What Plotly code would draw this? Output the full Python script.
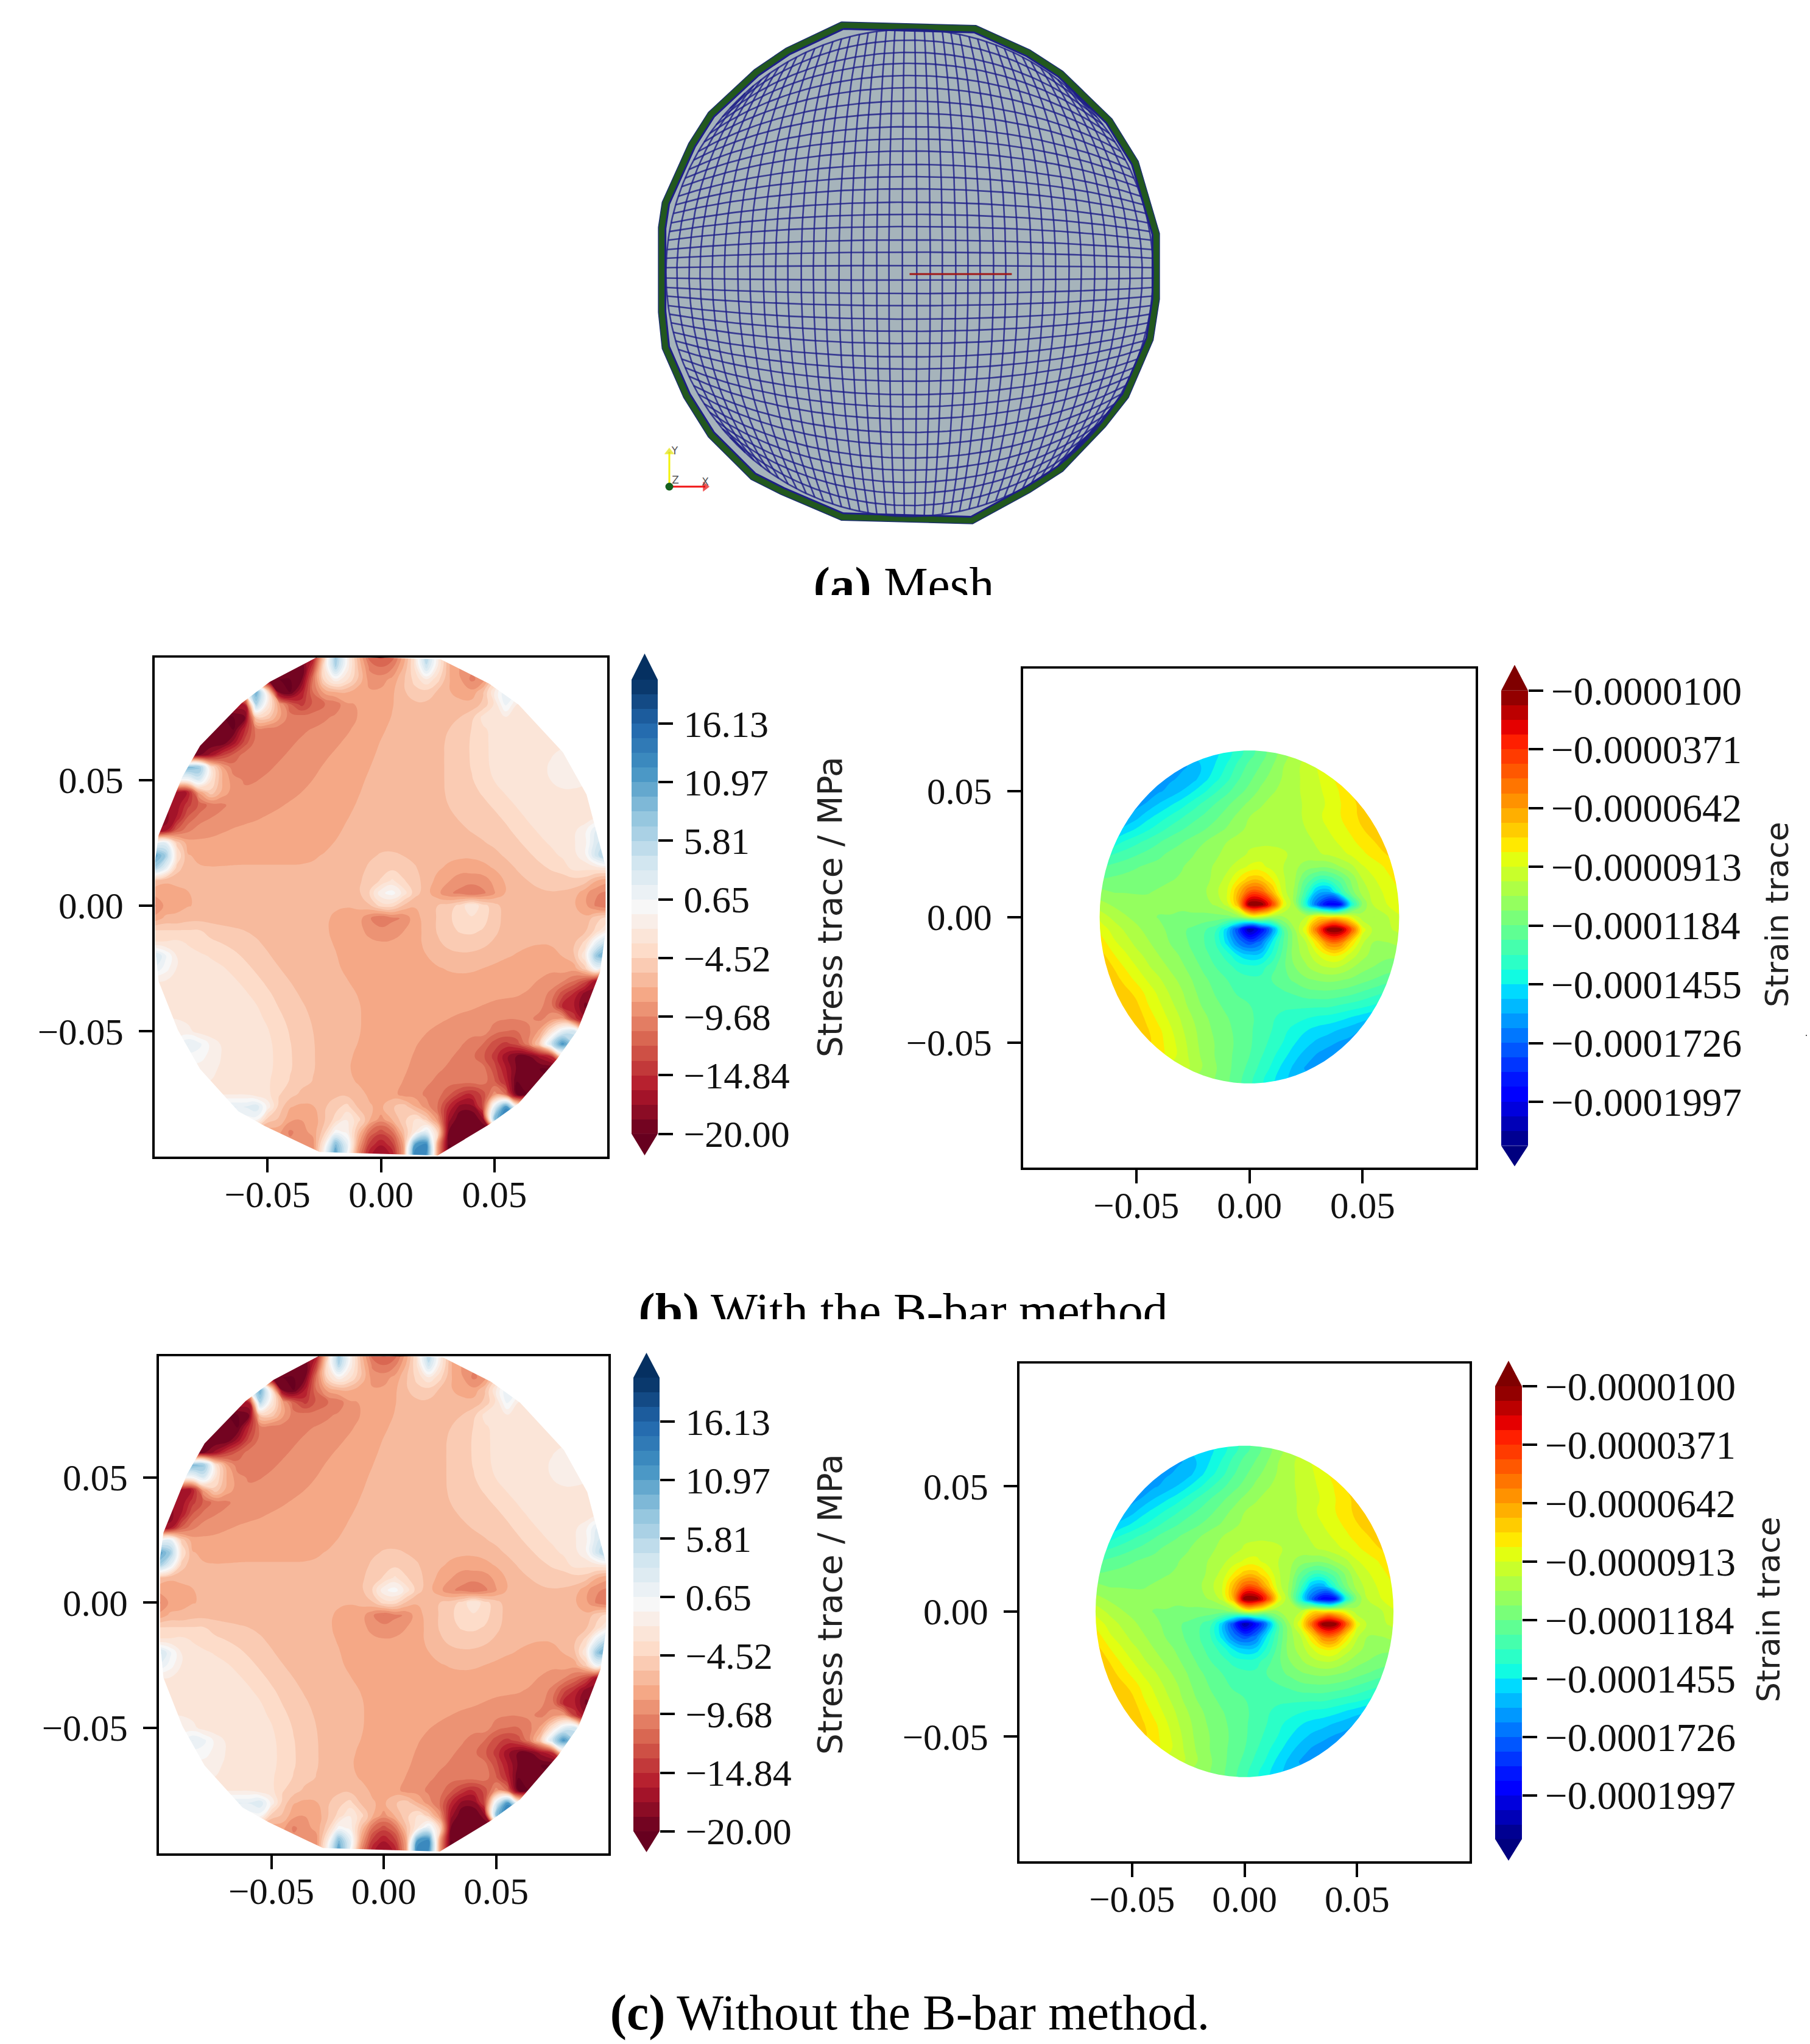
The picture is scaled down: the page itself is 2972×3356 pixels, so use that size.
import numpy as np
import plotly.graph_objects as go

W, H = 2972, 3356
SERIF = "Liberation Serif"

# Stress trace / MPa on a 0.005 grid (x,y from -0.1 to 0.1).
# Each row: (first column index, values); cells beyond the disc repeat the row's edge value.
STRESS_ROWS = [
 (14,[-17,-6,8,-1,-7,-12,-13,-12,-8,-3,7,-2,-7,-9,-9]),
 (13,[-20,-14,-3,6,-1,-6,-10,-11,-10,-7,-3,4,-2,-7,-10,-10,-9]),
 (11,[-20,-20,-19,-11,-4,-1,-3,-6,-9,-9,-8,-6,-4,-2,-4,-7,-9,-10,-9,-5,-2,-1]),
 (8,[-2,10,-3,-19,-20,-16,-11,-8,-7,-7,-8,-8,-8,-7,-6,-5,-5,-6,-7,-8,-8,-6,-2,2,0,-3]),
 (8,[-16,6,-2,-8,-12,-14,-12,-11,-10.5,-9.5,-9,-8.5,-8,-7.5,-7,-6.5,-6.5,-7,-7,-7,-6.5,-5.5,-3,1,-2,-3]),
 (7,[-20,-19,-5,-5,-8,-10.4,-10.4,-10.4,-9,-9,-9,-7.8,-7.8,-7.8]+[-6.5]*6+[-5.2,-5,-2.8,-2.8,-2,-2,-3]),
 (6,[-20,-20,-15]+[-10.4]*5+[-9]*4+[-7.8]*3+[-6.5]*5+[-5.2]*2+[-5]+[-2.8]*6),
 (5,[-20,-20,-17,-13]+[-10.4]*4+[-9]*4+[-7.8]*3+[-6.5]*6+[-5.2]*2+[-5]+[-2.8]*6+[-2.5]),
 (4,[-19,-17,-14,-12]+[-10.4]*4+[-9]*4+[-7.8]*4+[-6.5]*6+[-5.2]*2+[-5]+[-2.8]*5+[-2.6,-2,-1.5]),
 (3,[9,8,-3,-8]+[-10.4]*4+[-9]*4+[-7.8]*4+[-7]+[-6.5]*6+[-5.2]*2+[-5]+[-2.8]*5+[-2.5,-1.5,0,0]),
 (3,[0,3,-3,-7,-10,-10.4,-10]+[-9]*4+[-8.5]+[-7.8]*4+[-6.5]*7+[-5.2]*3+[-2.8]*5+[-2.5,-2,0.5,-1,-2]),
 (2,[-17,-16,-8,-5,-7.5,-10.4]+[-9]*5+[-8.5]+[-7.8]*4+[-7]+[-6.5]*7+[-5.2]*4+[-2.8]*8+[-3]),
 (1,[-18,-17,-14,-12,-10.4,-10]+[-9]*5+[-7.8]*6+[-7]+[-6.5]*7+[-5.2]*4+[-5]+[-2.8]*8),
 (1,[-18,-16,-12,-10.4]+[-9]*5+[-7.8]*7+[-7]+[-6.5]*9+[-5.2]*5+[-2.8]*7+[-2]),
 (1,[-17,-12,-10,-9,-9,-8.8]+[-7.8]*10+[-6.5]*11+[-5.2]*4+[-4.4]+[-2.8]*4+[-2.5,-1,2,3]),
 (0,[0,2,-5]+[-7.8]*13+[-7]+[-6.5]*12+[-6]+[-5.2]*3+[-4.4]+[-2.8]*3+[-2.5,-1,3,5]),
 (0,[11,7,-3,-7,-7.4,-7.8]+[-7.4]*9+[-6.5]*4+[-6]+[-5.2]*2+[-6]+[-6.5]*7+[-6]+[-5.2]*3+[-4.4,-2.8,-2.8,-2,-1,4,7]),
 (0,[7,2,-5]+[-6.8]*16+[-5.2]*5+[-6,-6.5,-7,-7.5,-8,-7.5,-7,-6.2]+[-5.2]*3+[-4.4,-4,-2.8,-2.8,-2.5,-2]),
 (0,[-6]+[-6.8]*17+[-6,-5.2,-4.4,-3,-4.4,-5.2,-6.8,-8,-8.5,-9.2,-9.2,-9,-8,-7,-6.2,-5.8]+[-5.2]*3+[-5,-5.2,-7,-8]),
 (0,[-8,-8,-8]+[-6.8]*16+[-4.4,-1,0,-2.5,-5.2,-7,-8,-9.5,-10,-11,-10,-8.5,-7,-7,-6.2,-5.8,-5.8,-5.8,-6.4,-8,-9.5,-10]),
 (0,[-10,-9,-8,-8]+[-6.8]*15+[-6,-4,-4,-6,-7,-7,-5.8,-5.2,-4,-2,-4,-5.2,-6.8]+[-6.8]*6+[-8,-10,-11]),
 (0,[-8]+[-6.8]*15+[-7.8]*3+[-9.5,-11,-10,-9.5,-8,-7,-5.2,-4.4,-3.5,-1.5,-3.5,-5,-6.8]+[-6.8]*7+[-5,-4]),
 (0,[-4.4]*5+[-5.2]*4+[-6]+[-6.8]*6+[-7.4,-7.8,-7.8,-9,-9.5,-9,-7.8,-7.8,-6.8,-5.2,-4.4,-4.2,-4.2,-4.4,-5.2,-6.8]+[-6.8]*6+[-6,-4,-1]),
 (0,[-3,-3,-2.8,-2.8,-2.8,-4.4,-5]+[-5.2]*3+[-6]+[-6.8]*6+[-7.8]*7+[-7,-5.2,-5.2,-5.2,-5.2,-5.2,-6]+[-6.8]*6+[-6,-4,2,6]),
 (0,[4,1,-2,-3,-2.8,-2.8,-2.8,-4.4]+[-5.2]*3+[-6.8]*6+[-7.4]+[-7.8]*6+[-6.8,-6.8,-6.2,-6,-6,-6.2]+[-6.8]*3+[-7.4,-7.8,-7.8,-7,-6,-2,8,11]),
 (0,[2,0,-2,-3]+[-2.8]*4+[-4.4]+[-5.2]*3+[-6.8]*5+[-7.4]+[-7.8]*7+[-7.4,-6.8,-6.8,-6.8,-7.4]+[-7.8]*8+[-5,1,-6]),
 (0,[-2,-2,-2.5,-2.8]+[-2.8]*5+[-4.4]+[-5.2]*3+[-6.8]*5+[-7.4]+[-7.8]*15+[-8.4,-9,-9.5,-11,-13,-17,-18]),
 (1,[-2,-2.5,-2.8]+[-2.8]*6+[-5,-5.2,-5.2,-6]+[-6.8]*5+[-7.4]+[-7.8]*13+[-8.4,-9,-10,-13,-15,-18,-18]),
 (1,[-2,-2.5,-2.8]+[-2.8]*7+[-5.2]*3+[-6]+[-6.8]*4+[-7.4]+[-7.8]*9+[-8.4]+[-9]*5+[-10.4,-15,-16,-19,-19]),
 (1,[-2,-2.5,-2.8]+[-2.8]*7+[-5,-5.2,-5.2,-6]+[-6.8]*4+[-7.4]+[-7.8]*6+[-8.4]+[-9]*7+[-10,-9,-8,-14,-17]),
 (2,[-1,-1.5,-2.5,-2.8]+[-2.8]*6+[-5.2]*3+[-6.8]*4+[-7.4]+[-7.8]*4+[-8.4]+[-9]*5+[-10.4,-11,-11,-10,-8,-3,2,4,-5]),
 (2,[-1,2,1,-1,-2,-2.8]+[-2.8]*4+[-5.2]*3+[-6.8]*4+[-7.4,-7.8,-7.8,-7.8,-8.4]+[-9]*4+[-10.4,-11,-13,-14,-13,-10,-5,4,12,6]),
 (4,[0,-1,-2,-2.8]+[-2.8]*4+[-5,-5.2,-5.2]+[-6.8]*3+[-7.4]+[-7.8]*4+[-8.6]+[-9]*3+[-10.4,-11,-12,-14,-17,-19,-19,-17,-15,-4]),
 (5,[-2,-2,-2.8]+[-2.8]*4+[-5,-5.2,-5.2]+[-6.8]*3+[-7.4]+[-7.8]*4+[-9]*3+[-10.4]*4+[-13,-16,-19,-20,-20,-20]),
 (6,[-2,-2.8]+[-2.8]*4+[-5,-5.2,-5.2]+[-6.8]*3+[-7.4]+[-7.8]*3+[-8.4,-9,-9,-10,-10.4,-10.4,-10.4,-10.4,-12,-15,-20,-20,-20]),
 (7,[-2,-2,-2.8,-2.8,-4.4,-5.2,-5.2,-6]+[-6.8]*4+[-7.8]*3+[-9,-9,-10,-10.4,-12,-14,-15,-13,-9,-11,-20,-20]),
 (8,[2,3,-1,-5,-7,-8,-8,-6,-5,-4,-6,-7,-7,-6,-5,-7,-9,-11,-15,-18,-18,-13,2,12,0]),
 (9,[0,-5,-6,-8,-9,-8,-6,-4,-2,-4,-7,-9,-7,-5,-3,-5,-9,-17,-20,-20,-18,8,14]),
 (11,[-8,-10,-10,-8,-5,0,-1,-6,-11,-13,-11,-6,-2,2,-4,-19,-20,-20,-20]),
 (14,[-9,-2,9,2,-8,-14,-16,-14,-8,11,13,-8,-20,-20]),
 (14,[-9,0,12,0,-10,-16,-18,-16,-8,14,12,-8,-20]),
]
STRESS_STEP = 0.005

# Strain trace in units of 1e-6 on a 0.005 grid
# (x from -0.07 to 0.07, y from 0.065 down to -0.065).
STRAIN_ROWS = [
 (10,[-150,-147,-142,-135,-128,-122,-115,-108,-102,-98]),
 (8,[-160,-158,-150,-145,-138,-130,-123,-118,-112,-105,-100,-96,-91,-86]),
 (6,[-160,-160,-158,-155,-148,-141,-134,-126,-120,-114,-109,-104,-100,-96,-92,-88,-82,-78]),
 (5,[-164,-160,-157,-152,-146,-140,-133,-127,-121,-116,-110,-106,-102,-100,-96,-93,-89,-84,-78,-75]),
 (4,[-162,-158,-152,-147,-142,-136,-130,-125,-120,-115,-110,-106,-102,-100,-100,-97,-94,-90,-85,-80,-75,-73]),
 (3,[-160,-155,-148,-143,-138,-133,-128,-124,-120,-115,-110,-105,-102,-100,-100,-100,-97,-93,-89,-85,-80,-76,-72,-70]),
 (2,[-155,-150,-145,-140,-135,-130,-126,-122,-119,-115,-111,-107,-103,-100,-100,-100,-100,-98,-95,-91,-87,-83,-78,-74,-70]),
 (1,[-146,-143,-138,-134,-130,-126,-122,-119,-116,-112,-108,-105,-102,-100,-100,-100,-100,-100,-100,-97,-94,-90,-86,-82,-78,-73,-70]),
 (1,[-135,-132,-129,-126,-123,-120,-117,-115,-112,-109,-106,-103,-101,-97,-95,-95,-97,-100,-101,-99,-97,-94,-90,-86,-82,-78,-75,-72]),
 (0,[-125,-125,-123,-121,-119,-117,-116,-114,-112,-110,-107,-104,-100,-95,-90,-89,-94,-98,-103,-108,-110,-110,-105,-100,-92,-88,-84,-80,-77]),
 (0,[-118,-118,-117,-116,-115,-114,-113,-112,-111,-110,-108,-102,-96,-84,-74,-74,-84,-97,-104,-120,-130,-130,-122,-110,-98,-92,-87,-83,-80]),
 (0,[-108,-110,-112,-112,-112,-112,-111,-110,-110,-108,-106,-100,-92,-70,-48,-48,-70,-95,-106,-130,-155,-158,-135,-115,-102,-95,-90,-86,-83]),
 (0,[-100,-103,-106,-108,-110,-110,-110,-110,-110,-109,-107,-104,-96,-70,-10,-10,-40,-86,-105,-140,-175,-198,-195,-140,-110,-97,-92,-88,-85]),
 (0,[-88,-95,-100,-104,-107,-110,-112,-112,-113,-113,-114,-114,-114,-110,-95,-95,-105,-105,-103,-98,-80,-80,-80,-90,-102,-105,-100,-93,-90]),
 (0,[-80,-88,-94,-99,-103,-107,-110,-113,-117,-120,-124,-130,-150,-180,-215,-195,-165,-125,-105,-86,-50,-10,-10,-45,-88,-100,-100,-97,-92]),
 (0,[-75,-82,-90,-95,-100,-104,-108,-112,-116,-120,-125,-132,-148,-168,-178,-170,-145,-125,-108,-98,-78,-55,-55,-78,-97,-105,-105,-103,-100]),
 (0,[-72,-76,-84,-90,-96,-100,-105,-108,-113,-118,-123,-128,-135,-146,-152,-150,-137,-122,-108,-102,-92,-84,-84,-94,-102,-108,-110,-110,-110]),
 (0,[-70,-72,-78,-85,-91,-97,-101,-106,-110,-115,-120,-125,-129,-134,-136,-135,-128,-120,-112,-106,-101,-98,-99,-104,-109,-112,-114,-116,-118]),
 (1,[-70,-74,-80,-86,-92,-97,-102,-107,-112,-117,-121,-125,-128,-130,-130,-125,-121,-117,-113,-111,-110,-111,-113,-116,-119,-122,-124,-126]),
 (1,[-68,-70,-75,-80,-87,-93,-99,-104,-110,-115,-119,-123,-126,-128,-129,-128,-126,-124,-121,-120,-120,-121,-123,-126,-129,-132,-135,-137]),
 (2,[-68,-72,-76,-84,-90,-96,-102,-108,-113,-117,-120,-123,-125,-128,-130,-130,-130,-130,-130,-130,-132,-134,-136,-139,-142,-145]),
 (3,[-70,-73,-80,-87,-93,-99,-105,-110,-115,-118,-121,-124,-127,-131,-134,-136,-138,-140,-141,-143,-146,-149,-152,-155]),
 (4,[-72,-77,-83,-90,-97,-103,-109,-113,-117,-120,-124,-128,-132,-137,-141,-145,-148,-150,-153,-156,-160,-162]),
 (5,[-76,-82,-88,-95,-102,-108,-112,-116,-120,-124,-129,-134,-139,-145,-150,-154,-157,-160,-162,-165]),
 (6,[-82,-88,-94,-101,-107,-112,-116,-121,-125,-131,-137,-143,-150,-155,-160,-163,-166]),
 (8,[-94,-100,-106,-111,-116,-122,-127,-134,-140,-148,-154,-160,-165]),
 (10,[-107,-112,-117,-123,-130,-137,-144,-150,-156]),
]

# Outline of the disc (x, y); edges between the electrodes are straight.
BOUNDARY_X = [-.027,-.049,-.0615,-.0797,-.0875,-.098,-.0995,-.0995,-.098,-.0895,-.0797,-.0628,-.0511,-.027,.025,.0477,.0607,.0776,.0867,.0965,.099,.099,.0906,.0802,.0607,.0477,.0263]
BOUNDARY_Y = [.0994,.089,.0805,.0636,.0513,.028,.018,-.0156,-.03,-.0494,-.065,-.0818,-.0877,-.098,-.0994,-.087,-.0786,-.061,-.0494,-.0266,-.0104,.0156,.0442,.061,.0799,.0883,.098]
STRAIN_RADIUS = 0.0662

STRESS_TICKS = [-20.00,-14.84,-9.68,-4.52,0.65,5.81,10.97,16.13]
STRESS_LABELS = ["−20.00","−14.84","−9.68","−4.52","0.65","5.81","10.97","16.13"]
STRAIN_TICKS = [-10,-37.1,-64.2,-91.3,-118.4,-145.5,-172.6,-199.7]
STRAIN_LABELS = ["−0.0000100","−0.0000371","−0.0000642","−0.0000913","−0.0001184","−0.0001455","−0.0001726","−0.0001997"]
AXIS_TICKS = [-0.05,0.0,0.05]
AXIS_LABELS = ["−0.05","0.00","0.05"]

# The quad mesh has far too many cells to read one by one: this is a schematic of it, a curved
# grid with the same cell size, using these line positions across the disc.
MESH_LINES = [-1,-.955,-.905,-.86,-.81,-.76,-.705,-.655,-.6,-.55,-.5,-.445,-.395,-.345,-.29,-.24,-.19,-.135,-.085,-.03,
              .03,.085,.135,.19,.24,.29,.345,.395,.445,.5,.55,.6,.655,.705,.76,.81,.86,.905,.955,1]
CRACK_X = [0.0,0.405]
CRACK_Y = [-0.005,-0.005]

RDBU = [[0,"#67001f"],[.1,"#b2182b"],[.2,"#d6604d"],[.3,"#f4a582"],[.4,"#fddbc7"],[.5,"#f7f7f7"],
        [.6,"#d1e5f0"],[.7,"#92c5de"],[.8,"#4393c3"],[.9,"#2166ac"],[1,"#053061"]]
JET = [[0,"#00007f"],[.11,"#0000ff"],[.125,"#0000ff"],[.34,"#00dbff"],[.35,"#00e5f7"],[.375,"#14ffde"],
       [.64,"#ebff08"],[.65,"#f5f500"],[.66,"#ffea00"],[.89,"#ff1c00"],[.91,"#f10000"],[1,"#7f0000"]]


def expand(rows, ncol):
    out = []
    for start, vals in rows:
        r = [vals[0]] * start + list(vals)
        r = r[:ncol] + [vals[-1]] * (ncol - len(r))
        out.append(r)
    return np.array(out, dtype=float)


def soften_plateaus(z, spread=3.5, passes=2):
    """The readings are whole bands, so they form steps; relax the steps in the flat background
    only, leaving the sharp spots at the electrodes exactly as read."""
    kernel = np.array([[1, 2, 1], [2, 4, 2], [1, 2, 1]]) / 16.0
    for _ in range(passes):
        new = z.copy()
        for i in range(1, z.shape[0] - 1):
            for j in range(1, z.shape[1] - 1):
                win = z[i - 1:i + 2, j - 1:j + 2]
                if win.max() - win.min() <= spread:
                    new[i, j] = (win * kernel).sum()
        z = new
    return z


stress = soften_plateaus(expand(STRESS_ROWS, 41))
stress_xy = -0.1 + STRESS_STEP * np.arange(41)
strain_core = expand(STRAIN_ROWS, 29)
strain = np.vstack([strain_core[0], strain_core, strain_core[-1]])
strain_x = -0.07 + 0.005 * np.arange(29)
strain_y = 0.07 - 0.005 * np.arange(29)

fig = go.Figure()
layout = dict(width=W, height=H, margin=dict(l=0, r=0, t=0, b=0), paper_bgcolor="white",
              plot_bgcolor="rgba(0,0,0,0)", showlegend=False, shapes=[], annotations=[],
              font=dict(family=SERIF, color="#111"))
axis_n = [0]


def axes(l, r, t, b, xa, ya):
    axis_n[0] += 1
    n = axis_n[0]
    sx = "" if n == 1 else str(n)
    layout["xaxis" + sx] = dict(domain=[l / W, r / W], anchor="y" + sx, **xa)
    layout["yaxis" + sx] = dict(domain=[1 - b / H, 1 - t / H], anchor="x" + sx, **ya)
    return "x" + sx, "y" + sx


HIDE = dict(visible=False, showgrid=False, zeroline=False)


def framed(rng, standoff):
    return dict(range=rng, showgrid=False, zeroline=False, showline=True, mirror=True, linecolor="black",
                linewidth=4, ticks="outside", ticklen=22, tickwidth=4, tickcolor="black", ticklabelstandoff=standoff,
                tickvals=AXIS_TICKS, ticktext=AXIS_LABELS, tickfont=dict(family=SERIF, size=61, color="#111"))


def circle_path(poly):
    xs, ys = poly
    return "M " + " L ".join(f"{a:.5f},{b:.5f}" for a, b in zip(xs, ys)) + " Z"


def mask_shape(xn, yn, xr, yr, poly):
    outer = ([xr[0], xr[1], xr[1], xr[0]], [yr[0], yr[0], yr[1], yr[1]])  # counter-clockwise
    path = circle_path(outer) + " " + circle_path(poly)
    layout["shapes"].append(dict(type="path", xref=xn, yref=yn, path=path, fillcolor="white",
                                 line=dict(width=0), layer="above"))


def colourbar(l, r, t, b, vals, labels, lo, hi, top_tip, bot_tip, scale, title, tx, ty, tick_size, standoff, title_size):
    levels = np.linspace(lo, hi, 32)
    mids = (levels[:-1] + levels[1:]) / 2
    xn, yn = axes(l, r, t, b, dict(range=[-.5, .5], **HIDE),
                  dict(range=[bot_tip, top_tip], side="right", showgrid=False, zeroline=False, showline=False,
                       ticks="outside", ticklen=24, tickwidth=4, tickcolor="black", tickvals=vals, ticktext=labels,
                       ticklabelstandoff=standoff, tickfont=dict(family=SERIF, size=tick_size, color="#111")))
    fig.add_trace(go.Heatmap(x=[0], y=mids, z=mids.reshape(-1, 1), zmin=lo, zmax=hi, colorscale=scale,
                             showscale=False, hoverinfo="skip", xaxis=xn, yaxis=yn))
    for base, tip, colour in ((hi, top_tip, scale[-1][1]), (lo, bot_tip, scale[0][1])):
        fig.add_trace(go.Scatter(x=[-.5, 0, .5, -.5], y=[base, tip, base, base], mode="lines", fill="toself",
                                 fillcolor=colour, line=dict(width=0), hoverinfo="skip", xaxis=xn, yaxis=yn))
    layout["annotations"].append(dict(text=title, xref="paper", yref="paper", x=tx / W, y=1 - ty / H,
                                      xanchor="center", yanchor="middle", showarrow=False, textangle=-90,
                                      font=dict(family="DejaVu Sans", size=title_size, color="#222")))


def stress_panel(box, xr, yr, cb, cbt):
    xn, yn = axes(*box, framed(xr, -16), framed(yr, 13))
    fig.add_trace(go.Contour(x=stress_xy, y=stress_xy[::-1], z=stress, zmin=-20, zmax=20, colorscale=RDBU,
                             contours=dict(start=-20, end=20, size=40 / 31, coloring="fill", showlines=False),
                             line=dict(width=0, smoothing=1.3), showscale=False, hoverinfo="skip", xaxis=xn, yaxis=yn))
    mask_shape(xn, yn, xr, yr, (BOUNDARY_X, BOUNDARY_Y))
    colourbar(*cb, STRESS_TICKS, STRESS_LABELS, -20, 20, cbt[0], cbt[1], RDBU, "Stress trace / MPa", cbt[2], cbt[3], 62, 5, 55)


def strain_panel(box, xr, yr, cb, cbt):
    xn, yn = axes(*box, framed(xr, -16), framed(yr, 13))
    fig.add_trace(go.Contour(x=strain_x, y=strain_y[::-1], z=strain[::-1], zmin=-220, zmax=-10, colorscale=JET,
                             contours=dict(start=-220, end=-10, size=210 / 31, coloring="fill", showlines=False),
                             line=dict(width=0, smoothing=1.3), showscale=False, hoverinfo="skip", xaxis=xn, yaxis=yn))
    t = np.deg2rad(np.arange(0, 360, 4))
    # clockwise circle inside the counter-clockwise outer rectangle leaves a hole
    mask_shape(xn, yn, xr, yr, (list(STRAIN_RADIUS * np.cos(-t)), list(STRAIN_RADIUS * np.sin(-t))))
    colourbar(*cb, STRAIN_TICKS, STRAIN_LABELS, -220, -10, cbt[0], cbt[1], JET, "Strain trace", cbt[2], cbt[3], 65, 0, 52)


def caption(text, top, bottom, cy, cx):
    xn, yn = axes(0, W, top, bottom, dict(range=[0, W], **HIDE), dict(range=[H - bottom, H - top], **HIDE))
    fig.add_trace(go.Scatter(x=[cx], y=[H - cy], text=[text], mode="text", textposition="middle center",
                             textfont=dict(family=SERIF, size=81.5, color="black"), cliponaxis=True,
                             hoverinfo="skip", xaxis=xn, yaxis=yn))


# ---- (a) mesh -------------------------------------------------------------------------------
cx, cy, rad = 1493.5, 448.0, 414.5
MARGIN = 1.07
xn, yn = axes(cx - MARGIN * rad, cx + MARGIN * rad, cy - MARGIN * rad, cy + MARGIN * rad,
              dict(range=[-MARGIN, MARGIN], **HIDE), dict(range=[-MARGIN, MARGIN], **HIDE))
bx = np.array(BOUNDARY_X + BOUNDARY_X[:1]) * 10
by = np.array(BOUNDARY_Y + BOUNDARY_Y[:1]) * 10
fig.add_trace(go.Scatter(x=bx, y=by, mode="lines", fill="toself", fillcolor="#22581e",
                         line=dict(color="#1c2f6e", width=1.5), hoverinfo="skip", xaxis=xn, yaxis=yn))
fig.add_trace(go.Scatter(x=bx * 0.972, y=by * 0.972, mode="lines", fill="toself", fillcolor="#a6b4bb",
                         line=dict(color="#1e1e88", width=3), hoverinfo="skip", xaxis=xn, yaxis=yn))
mx, my = [], []
ts = np.linspace(-1, 1, 81)
for u in MESH_LINES:
    px = 0.965 * u * np.sqrt(1 - ts ** 2 / 2)
    py = 0.965 * ts * np.sqrt(1 - u ** 2 / 2)
    mx += list(px) + [None] + list(py) + [None]
    my += list(py) + [None] + list(px) + [None]
fig.add_trace(go.Scatter(x=mx, y=my, mode="lines", line=dict(color="rgba(30,30,136,0.8)", width=2.6),
                         hoverinfo="skip", xaxis=xn, yaxis=yn))
fig.add_trace(go.Scatter(x=CRACK_X, y=CRACK_Y, mode="lines", line=dict(color="#a01818", width=3),
                         hoverinfo="skip", xaxis=xn, yaxis=yn))
# orientation triad
ox, oy = (1099 - cx) / rad, (cy - 799) / rad
ty_, tx_ = (cy - 742) / rad, (1158 - cx) / rad
fig.add_trace(go.Scatter(x=[ox, ox], y=[oy, ty_], mode="lines+markers", line=dict(color="#f2f20a", width=3),
                         marker=dict(symbol=["circle", "triangle-up"], size=[1, 13], color="#dcdc10"),
                         hoverinfo="skip", xaxis=xn, yaxis=yn))
fig.add_trace(go.Scatter(x=[ox, tx_], y=[oy, oy], mode="lines+markers", line=dict(color="#f01414", width=3),
                         marker=dict(symbol=["circle", "triangle-right"], size=[1, 13], color="#e01010"),
                         hoverinfo="skip", xaxis=xn, yaxis=yn))
fig.add_trace(go.Scatter(x=[ox], y=[oy], mode="markers", marker=dict(color="#14601e", size=13),
                         hoverinfo="skip", xaxis=xn, yaxis=yn))
fig.add_trace(go.Scatter(x=[(1109 - cx) / rad, (1108 - cx) / rad, (1158 - cx) / rad],
                         y=[(cy - 790) / rad, (cy - 742) / rad, (cy - 793) / rad], text=["Z", "Y", "X"], mode="text",
                         textfont=dict(family="DejaVu Sans", size=17, color="#555"), hoverinfo="skip", xaxis=xn, yaxis=yn))

caption("<b>(a)</b> Mesh", 900, 977, 968, 1484)

# ---- (b) with the B-bar method --------------------------------------------------------------
stress_panel((254, 997, 1079.5, 1899), [-.0997, .0997], [-.0998, .0987],
             (1037, 1080, 1073, 1897), (22.3, -21.9, 1363, 1489))
strain_panel((1680, 2423, 1097.5, 1917), [-.1, .1], [-.0996, .0988],
             (2465, 2509, 1091.5, 1915), (1.9, -229.5, 2918, 1502))
caption("<b>(b)</b> With the B-bar method", 2100, 2166, 2160, 1483)

# ---- (c) without the B-bar method -----------------------------------------------------------
stress_panel((261, 999, 2226.5, 3043), [-.1, .1], [-.1001, .0985],
             (1040, 1083, 2221, 3041), (22.2, -21.85, 1363, 2634))
strain_panel((1674, 2413, 2238.5, 3055.5), [-.1, .1], [-.0997, .0991],
             (2455, 2499, 2234, 3055), (1.86, -230, 2904, 2643))
caption("<b>(c)</b> Without the B-bar method.", 3260, 3356, 3312, 1494)

# stray speck at the right margin of the original
layout["shapes"].append(dict(type="rect", xref="paper", yref="paper", x0=2965 / W, x1=2967 / W,
                             y0=1 - 1701 / H, y1=1 - 1699 / H, fillcolor="#555", line=dict(width=0)))

fig.update_layout(**layout)
fig.write_html("out.html", config={"displayModeBar": False},
               post_script="document.body.style.margin='0';document.body.style.overflow='hidden';")
